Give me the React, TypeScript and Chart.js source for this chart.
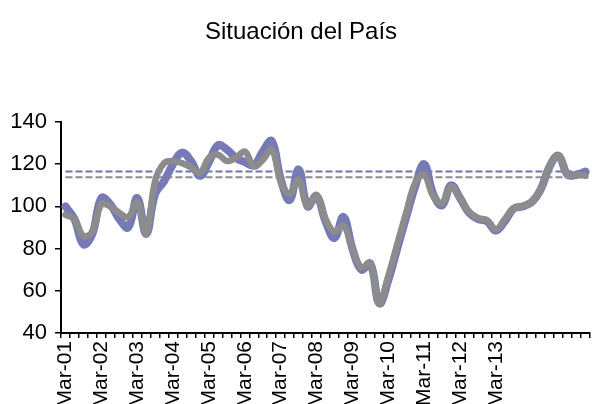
import React, { useEffect, useRef } from "react";
import { Chart, registerables } from "chart.js";

Chart.register(...registerables);

const categories = [
  "Mar-01", "Jun-01", "Sep-01", "Dec-01",
  "Mar-02", "Jun-02", "Sep-02", "Dec-02",
  "Mar-03", "Jun-03", "Sep-03", "Dec-03",
  "Mar-04", "Jun-04", "Sep-04", "Dec-04",
  "Mar-05", "Jun-05", "Sep-05", "Dec-05",
  "Mar-06", "Jun-06", "Sep-06", "Dec-06",
  "Mar-07", "Jun-07", "Sep-07", "Dec-07",
  "Mar-08", "Jun-08", "Sep-08", "Dec-08",
  "Mar-09", "Jun-09", "Sep-09", "Dec-09",
  "Mar-10", "Jun-10", "Sep-10", "Dec-10",
  "Mar-11", "Jun-11", "Sep-11", "Dec-11",
  "Mar-12", "Jun-12", "Sep-12", "Dec-12",
  "Mar-13", "Jun-13", "Sep-13", "Dec-13",
  "Mar-14", "Jun-14", "Sep-14", "Dec-14",
  "Mar-15", "Jun-15", "Sep-15",
];

const shownLabels = [
  "Mar-01", "Mar-02", "Mar-03", "Mar-04", "Mar-05", "Mar-06", "Mar-07",
  "Mar-08", "Mar-09", "Mar-10", "Mar-11", "Mar-12", "Mar-13",
];

const blueSeries = [
  100, 94, 82, 87, 104, 101, 94, 90, 104, 87,
  106, 112, 120, 125.5, 121.5, 114.5, 121, 129, 127, 123,
  121, 119.5, 126, 131, 113, 103, 117.5, 100, 105, 93,
  85, 95, 80, 70, 73, 54, 65, 80, 95, 109.5,
  120, 106, 100.5, 110, 104, 97, 94, 93, 88.5, 93,
  99, 100, 102, 108, 119, 124, 115, 115, 116.5,
];

const greySeries = [
  96, 94, 86, 88, 101, 100, 97, 95, 102, 87,
  112, 120.5, 121.5, 120.5, 118.5, 116, 123, 124.5, 121.5, 123,
  126, 119, 122, 127, 112, 106, 112.5, 100, 105, 94,
  88, 91, 80, 71, 73, 54, 67, 82, 97, 111,
  115, 105, 101.5, 109.5, 104, 97.5, 94.5, 93.5, 89, 94,
  99, 100, 102, 108, 119, 124, 115, 115, 114.5,
];

const blueAverage = 116.5;
const greyAverage = 113.8;

const yTicks = [40, 60, 80, 100, 120, 140];

export default function App() {
  const canvasRef = useRef<HTMLCanvasElement | null>(null);

  useEffect(() => {
    const canvas = canvasRef.current;
    if (!canvas) return;
    const font = "'Liberation Sans', Arial, sans-serif";
    const chart = new Chart(canvas, {
      type: "line",
      data: {
        labels: categories,
        datasets: [
          {
            label: "Situación del País (serie 2)",
            data: greySeries,
            borderColor: "#8c8c8c",
            borderWidth: 6.5,
            pointRadius: 0,
            tension: 0.4,
            borderCapStyle: "round",
            borderJoinStyle: "round",
            fill: false,
            order: 0,
          },
          {
            label: "Situación del País (serie 1)",
            data: blueSeries,
            borderColor: "#767ab5",
            borderWidth: 8,
            pointRadius: 0,
            tension: 0.4,
            borderCapStyle: "round",
            borderJoinStyle: "round",
            fill: false,
            order: 1,
          },
          {
            label: "Promedio serie 1",
            data: categories.map(() => blueAverage),
            borderColor: "#6e72b0",
            borderWidth: 2,
            borderDash: [7, 3],
            pointRadius: 0,
            fill: false,
            order: 2,
          },
          {
            label: "Promedio serie 2",
            data: categories.map(() => greyAverage),
            borderColor: "#8c8c8c",
            borderWidth: 2,
            borderDash: [7, 3],
            pointRadius: 0,
            fill: false,
            order: 3,
          },
        ],
      },
      options: {
        animation: false,
        responsive: true,
        maintainAspectRatio: false,
        layout: { padding: { top: 0, right: 2, bottom: 0, left: 12 } },
        plugins: {
          legend: { display: false },
          tooltip: { enabled: false },
          title: {
            display: true,
            text: "Situación del País",
            color: "#000",
            font: { family: font, size: 24, weight: "normal" },
            padding: { top: 18, bottom: 75.2 },
          },
        },
        scales: {
          x: {
            type: "category",
            offset: true,
            grid: {
              display: true,
              drawOnChartArea: false,
              drawTicks: true,
              tickLength: 5,
              color: "#000",
              lineWidth: 1.5,
              offset: true,
            },
            border: { display: true, color: "#000", width: 2 },
            ticks: {
              autoSkip: false,
              maxRotation: 90,
              minRotation: 90,
              padding: 3,
              color: "#000",
              font: { family: font, size: 21 },
              callback: (_v: any, idx: number) =>
                shownLabels.includes(categories[idx]) ? categories[idx] : "",
            },
            afterFit: (scale: any) => {
              scale.height = 404 - 333;
              scale.paddingLeft = 0;
              scale.paddingRight = 0;
            },
          },
          y: {
            min: 40,
            max: 140,
            afterBuildTicks: (scale: any) => {
              scale.ticks = yTicks.map((v) => ({ value: v }));
            },
            grid: {
              display: true,
              drawOnChartArea: false,
              drawTicks: true,
              tickLength: 6,
              color: "#000",
              lineWidth: 1.5,
            },
            border: { display: true, color: "#000", width: 2 },
            ticks: {
              padding: 8,
              color: "#000",
              font: { family: font, size: 22 },
            },
            afterFit: (scale: any) => {
              scale.width = 49;
            },
          },
        },
      },
    });
    return () => chart.destroy();
  }, []);

  return (
    <div
      style={{
        position: "fixed",
        left: 0,
        top: 0,
        width: 592,
        height: 404,
        overflow: "hidden",
        background: "#fff",
      }}
    >
      <canvas ref={canvasRef} />
    </div>
  );
}
